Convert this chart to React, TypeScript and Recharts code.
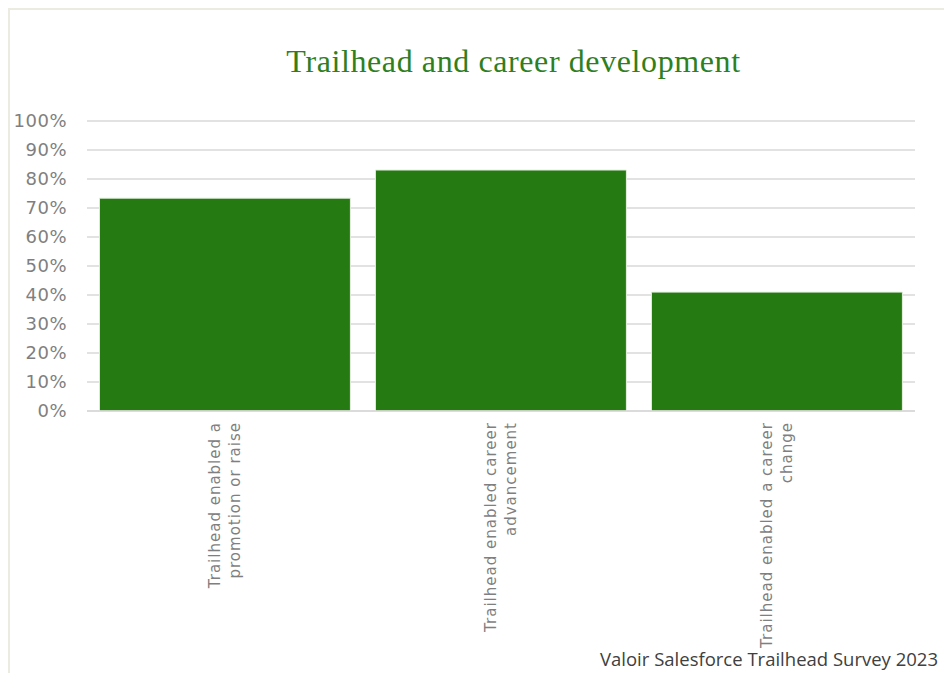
import { Bar, BarChart, CartesianGrid, XAxis, YAxis } from "recharts";

const categories = [
  "Trailhead enabled a promotion or raise",
  "Trailhead enabled career advancement",
  "Trailhead enabled a career change",
];
const labelLines = [
  ["Trailhead enabled a", "promotion or raise"],
  ["Trailhead enabled career", "advancement"],
  ["Trailhead enabled a career", "change"],
];
const shares = [0.734, 0.831, 0.41];
const yTicks = [0, 0.1, 0.2, 0.3, 0.4, 0.5, 0.6, 0.7, 0.8, 0.9, 1];

const data = categories.map((name, i) => ({ name, value: shares[i] }));

function CategoryTick(props: any) {
  const { x, y, index } = props;
  const lines = labelLines[index] || [];
  const step = 20;
  const offset = ((lines.length - 1) * step) / 2;
  return (
    <g transform={`translate(${x},${y + 3}) rotate(-90)`}>
      {lines.map((line: string, i: number) => (
        <text
          key={line}
          x={0}
          y={-offset + i * step}
          dy="0.35em"
          textAnchor="end"
          fill="#7f7f7f"
          fontSize={15}
          letterSpacing={1}
          fontFamily="DejaVu Sans"
        >
          {line}
        </text>
      ))}
    </g>
  );
}

export default function App() {
  return (
    <div style={{ position: "relative", width: 944, height: 665, background: "#fff" }}>
      <div style={{ position: "absolute", left: 0, top: 0, width: 944, height: 2, background: "#ecebe0" }} />
      <div style={{ position: "absolute", left: 0, top: 0, width: 2, height: 665, background: "#ecebe0" }} />
      <div
        style={{
          position: "absolute",
          left: 0,
          top: 35,
          width: 1011,
          textAlign: "center",
          fontFamily: "Liberation Serif",
          fontSize: 32,
          letterSpacing: 0.6,
          color: "#2f7f1f",
          whiteSpace: "nowrap",
        }}
      >
        Trailhead and career development
      </div>
      <BarChart
        width={944}
        height={665}
        data={data}
        margin={{ top: 113, right: 37, bottom: 22, left: 19 }}
        barCategoryGap="4.5%"
      >
        <CartesianGrid vertical={false} stroke="#d9d9d9" strokeWidth={1.5} />
        <XAxis
          dataKey="name"
          axisLine={{ stroke: "#d9d9d9", strokeWidth: 1.5 }}
          tickLine={false}
          height={240}
          interval={0}
          tick={<CategoryTick />}
        />
        <YAxis
          domain={[0, 1]}
          ticks={yTicks}
          tickFormatter={(v: number) => `${Math.round(v * 100)}%`}
          axisLine={false}
          tickLine={false}
          tickSize={0}
          tickMargin={20}
          width={60}
          tick={{ fill: "#7f7f7f", fontSize: 18, letterSpacing: 0.5, fontFamily: "DejaVu Sans" }}
        />
        <Bar dataKey="value" fill="#267a12" stroke="#e6efe2" strokeWidth={1} isAnimationActive={false} />
      </BarChart>
      <div
        style={{
          position: "absolute",
          right: 14,
          top: 638,
          fontFamily: "Open Sans",
          fontSize: 18.5,
          color: "#404040",
          whiteSpace: "nowrap",
        }}
      >
        Valoir Salesforce Trailhead Survey 2023
      </div>
    </div>
  );
}
